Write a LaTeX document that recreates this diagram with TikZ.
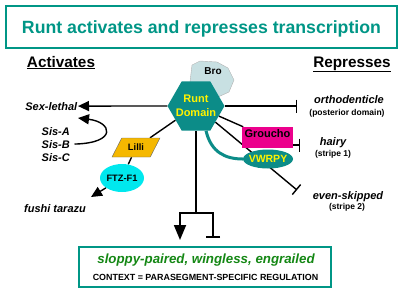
\documentclass[tikz,border=0pt]{standalone}
\usepackage{fontspec}
\setmainfont{Liberation Sans}
\usetikzlibrary{shapes.geometric,arrows.meta}
\definecolor{runtteal}{RGB}{12,140,136}
\definecolor{titleteal}{RGB}{0,150,134}
\definecolor{brogray}{RGB}{200,224,226}
\definecolor{lilligold}{RGB}{245,184,0}
\definecolor{ftzcyan}{RGB}{0,232,238}
\definecolor{genegreen}{RGB}{20,135,20}
\pgfdeclarelayer{bg}
\pgfsetlayers{bg,main}
\tikzset{
  gene/.style={font=\bfseries\itshape\fontsize{11}{12}\selectfont, inner sep=0.5pt},
  remark/.style={font=\bfseries\fontsize{8.5}{10}\selectfont, inner sep=0.5pt},
  side/.style={font=\bfseries\fontsize{15.3}{17}\selectfont, inner sep=0pt},
  link/.style={line width=1.4pt},
  act/.style={link, -{Triangle[length=11pt,width=10pt]}},
  rep/.style={link, -{Bar[width=13pt]}},
}
\begin{document}
\begin{tikzpicture}[x=1pt, y=-1pt]
  \useasboundingbox (0,0) rectangle (401,301);
  % title and headings
  \node[draw=titleteal, line width=1.5pt, minimum width=391pt, minimum height=42pt, text depth=0pt,
        text=titleteal, font=\bfseries\fontsize{17.7}{20}\selectfont] (title) at (201.5,27)
        {Runt activates and represses transcription};
  \node[side, anchor=base] (activates) at (61,67) {\underline{Activates}};
  \node[side, anchor=base] (represses) at (352,67) {\underline{Represses}};
  % runt domain and its partners
  \draw[fill=brogray, draw=gray!60] (190,82) -- (192,65) -- (200,61) -- (217,62) -- (228,68)
        -- (234,80) -- (229,92) -- (218,97) -- (205,96) -- cycle;
  \node[font=\bfseries\fontsize{10}{12}\selectfont, inner sep=0pt] (bro) at (213,71) {Bro};
  \node[regular polygon, regular polygon sides=6, minimum size=57pt, inner sep=0pt, fill=runtteal,
        label={[text=yellow, align=center, font=\bfseries\fontsize{11}{14.5}\selectfont]center:Runt\\Domain}]
        (runt) at (196,106) {};
  \node[fill=magenta, minimum width=51pt, minimum height=21pt, inner sep=2pt, text depth=7pt,
        font=\bfseries\fontsize{11}{12}\selectfont] (groucho) at (267.5,137.5) {Groucho};
  \node[ellipse, fill=runtteal, minimum width=50pt, minimum height=19pt, inner sep=0pt,
        label={[text=yellow, font=\bfseries\fontsize{10.5}{12}\selectfont]center:VWRPY}] (vwrpy) at (268,159) {};
  \node[trapezium, trapezium left angle=60, trapezium right angle=120, trapezium stretches=true,
        minimum width=48pt, minimum height=19pt, fill=lilligold, draw=black!60, line width=0.4pt,
        font=\bfseries\fontsize{9.3}{11}\selectfont] (lilli) at (136,147.5) {Lilli};
  \node[ellipse, fill=ftzcyan, minimum width=44pt, minimum height=28pt, inner sep=0pt,
        font=\bfseries\fontsize{9.3}{11}\selectfont] (ftzf1) at (122,178) {FTZ-F1};
  % target genes
  \node[gene, anchor=base east] (sxl) at (78,110) {Sex-lethal};
  \node[gene, anchor=base west] (sisa) at (41,135) {Sis-A};
  \node[gene, anchor=base west] (sisb) at (41,148) {Sis-B};
  \node[gene, anchor=base west] (sisc) at (41,161) {Sis-C};
  \node[gene, anchor=base] (otd) at (349,103) {orthodenticle};
  \node[remark, anchor=base] (otdnote) at (347,115) {(posterior domain)};
  \node[gene, anchor=base] (hairy) at (333,145) {hairy};
  \node[remark, anchor=base] (hairynote) at (333,156) {(stripe 1)};
  \node[gene, anchor=base] (eve) at (348,199) {even-skipped};
  \node[remark, anchor=base] (evenote) at (347,209) {(stripe 2)};
  \node[gene, anchor=base] (ftz) at (55,212) {fushi tarazu};
  % segment polarity box
  \node[draw=titleteal, line width=1.5pt, minimum width=252pt, minimum height=40pt] (targets) at (205,267) {};
  \node[anchor=base, text=genegreen, font=\bfseries\itshape\fontsize{13.3}{15}\selectfont] (segpol) at (206,263)
        {sloppy-paired, wingless, engrailed};
  \node[anchor=base, font=\bfseries\fontsize{8.9}{10}\selectfont] (context) at (205.5,280)
        {CONTEXT = PARASEGMENT-SPECIFIC REGULATION};
  % free ends
  \coordinate (otdbar) at (297,106);
  \coordinate (hairybar) at (300,145);
  \coordinate (evebar) at (297,190);
  \coordinate (sistip) at (78,118);
  \coordinate (ftztip) at (91,197);
  \coordinate (split) at (196,213);
  \coordinate (acttip) at (180,240);
  \coordinate (reptip) at (213,238);
  \begin{pgfonlayer}{bg}
    \draw[act] (runt.west) -- (sxl.east);
    \draw[rep] (runt.east) -- (otdbar);
    \draw[link] (runt) -- (groucho);
    \draw[rep] (runt) -- (evebar);
    \draw[link] (runt) -- (lilli);
    \draw[link] (lilli) -- (ftzf1);
    \draw[act] (ftzf1) -- (ftztip);
    \draw[act] ([xshift=4pt]sisb.east) .. controls (118,143) and (112,122) .. (sistip);
    \draw[rep] (groucho.east |- hairybar) -- (hairybar);
    \draw[line width=3pt, runtteal] (runt.-68) .. controls (211,152) and (225,159) .. (vwrpy.west);
    \draw[line width=1.8pt] (runt.south) -- (split);
    \draw[line width=1.8pt, -{Triangle[length=15pt,width=12pt]}] (split) -| (acttip);
    \draw[line width=1.8pt, -{Bar[width=14pt]}] (split) -| (reptip);
  \end{pgfonlayer}
\end{tikzpicture}
\end{document}
